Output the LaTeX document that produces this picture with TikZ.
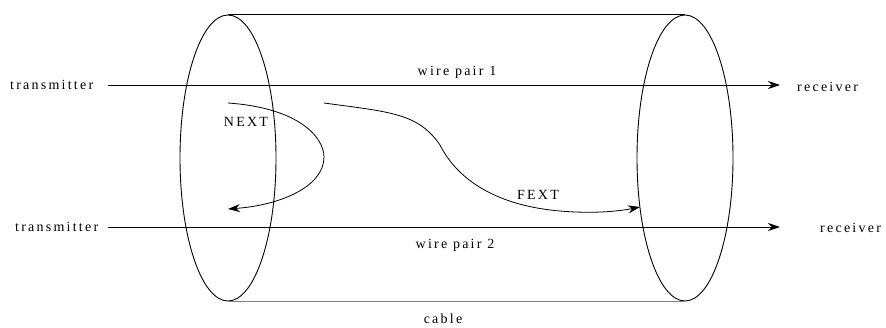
\documentclass[tikz,border=0pt]{standalone}
\usepackage{fontspec}
\setmainfont{Liberation Serif}[LetterSpace=16]
\usetikzlibrary{arrows.meta,shapes.geometric}
\begin{document}
\begin{tikzpicture}[x=1pt,y=-1pt,
  lbl/.style={font=\fontsize{14}{16}\selectfont, inner sep=0pt},
  wire/.style={line width=0.9pt, -{Stealth[length=12pt,width=8pt]}},
  xtalk/.style={line width=0.8pt, -{Stealth[length=12pt,width=8pt]}},
  shell/.style={line width=0.9pt}]
\useasboundingbox (0,0) rectangle (886,327);
% cable shell
\node[shell, draw, ellipse, minimum width=96pt, minimum height=286pt, inner sep=0pt] (le) at (228,158) {};
\node[shell, draw, ellipse, minimum width=96pt, minimum height=286pt, inner sep=0pt] (re) at (685,158) {};
\draw[shell] (le.north) -- (re.north);
\draw[shell, gray] (le.south) -- (re.south);
% labels
\node[lbl, anchor=west] (tx1) at (10,85) {transmitter};
\node[lbl, anchor=west] (tx2) at (15,227) {transmitter};
\node[lbl, anchor=west] (rx1) at (797,87) {receiver};
\node[lbl, anchor=west] (rx2) at (820,228) {receiver};
\node[lbl] (wp1) at (457,72) {wire pair 1};
\node[lbl] (wp2) at (455,245) {wire pair 2};
\node[lbl] (cab) at (443,319) {cable};
\node[lbl] (next) at (246,122) {NEXT};
\node[lbl] (fext) at (538,195) {FEXT};
% wires
\coordinate (w1s) at (108,85); \coordinate (w1e) at (780,85);
\coordinate (w2s) at (108,227); \coordinate (w2e) at (780,227);
\draw[wire] (w1s) -- (w1e);
\draw[wire] (w2s) -- (w2e);
% crosstalk
\coordinate (ns) at (228,103); \coordinate (ne) at (228,209);
\coordinate (fs) at (324,103); \coordinate (fe) at (640,207);
\draw[xtalk] (ns) .. controls (300,108) and (324,138) .. (324,157)
  .. controls (324,186) and (282,205) .. (ne);
\draw[xtalk] (fs) .. controls (390,112) and (418,113) .. (440,145)
  .. controls (455,175) and (490,205) .. (560,211)
  .. controls (595,214) and (620,211) .. (fe);
\end{tikzpicture}
\end{document}
